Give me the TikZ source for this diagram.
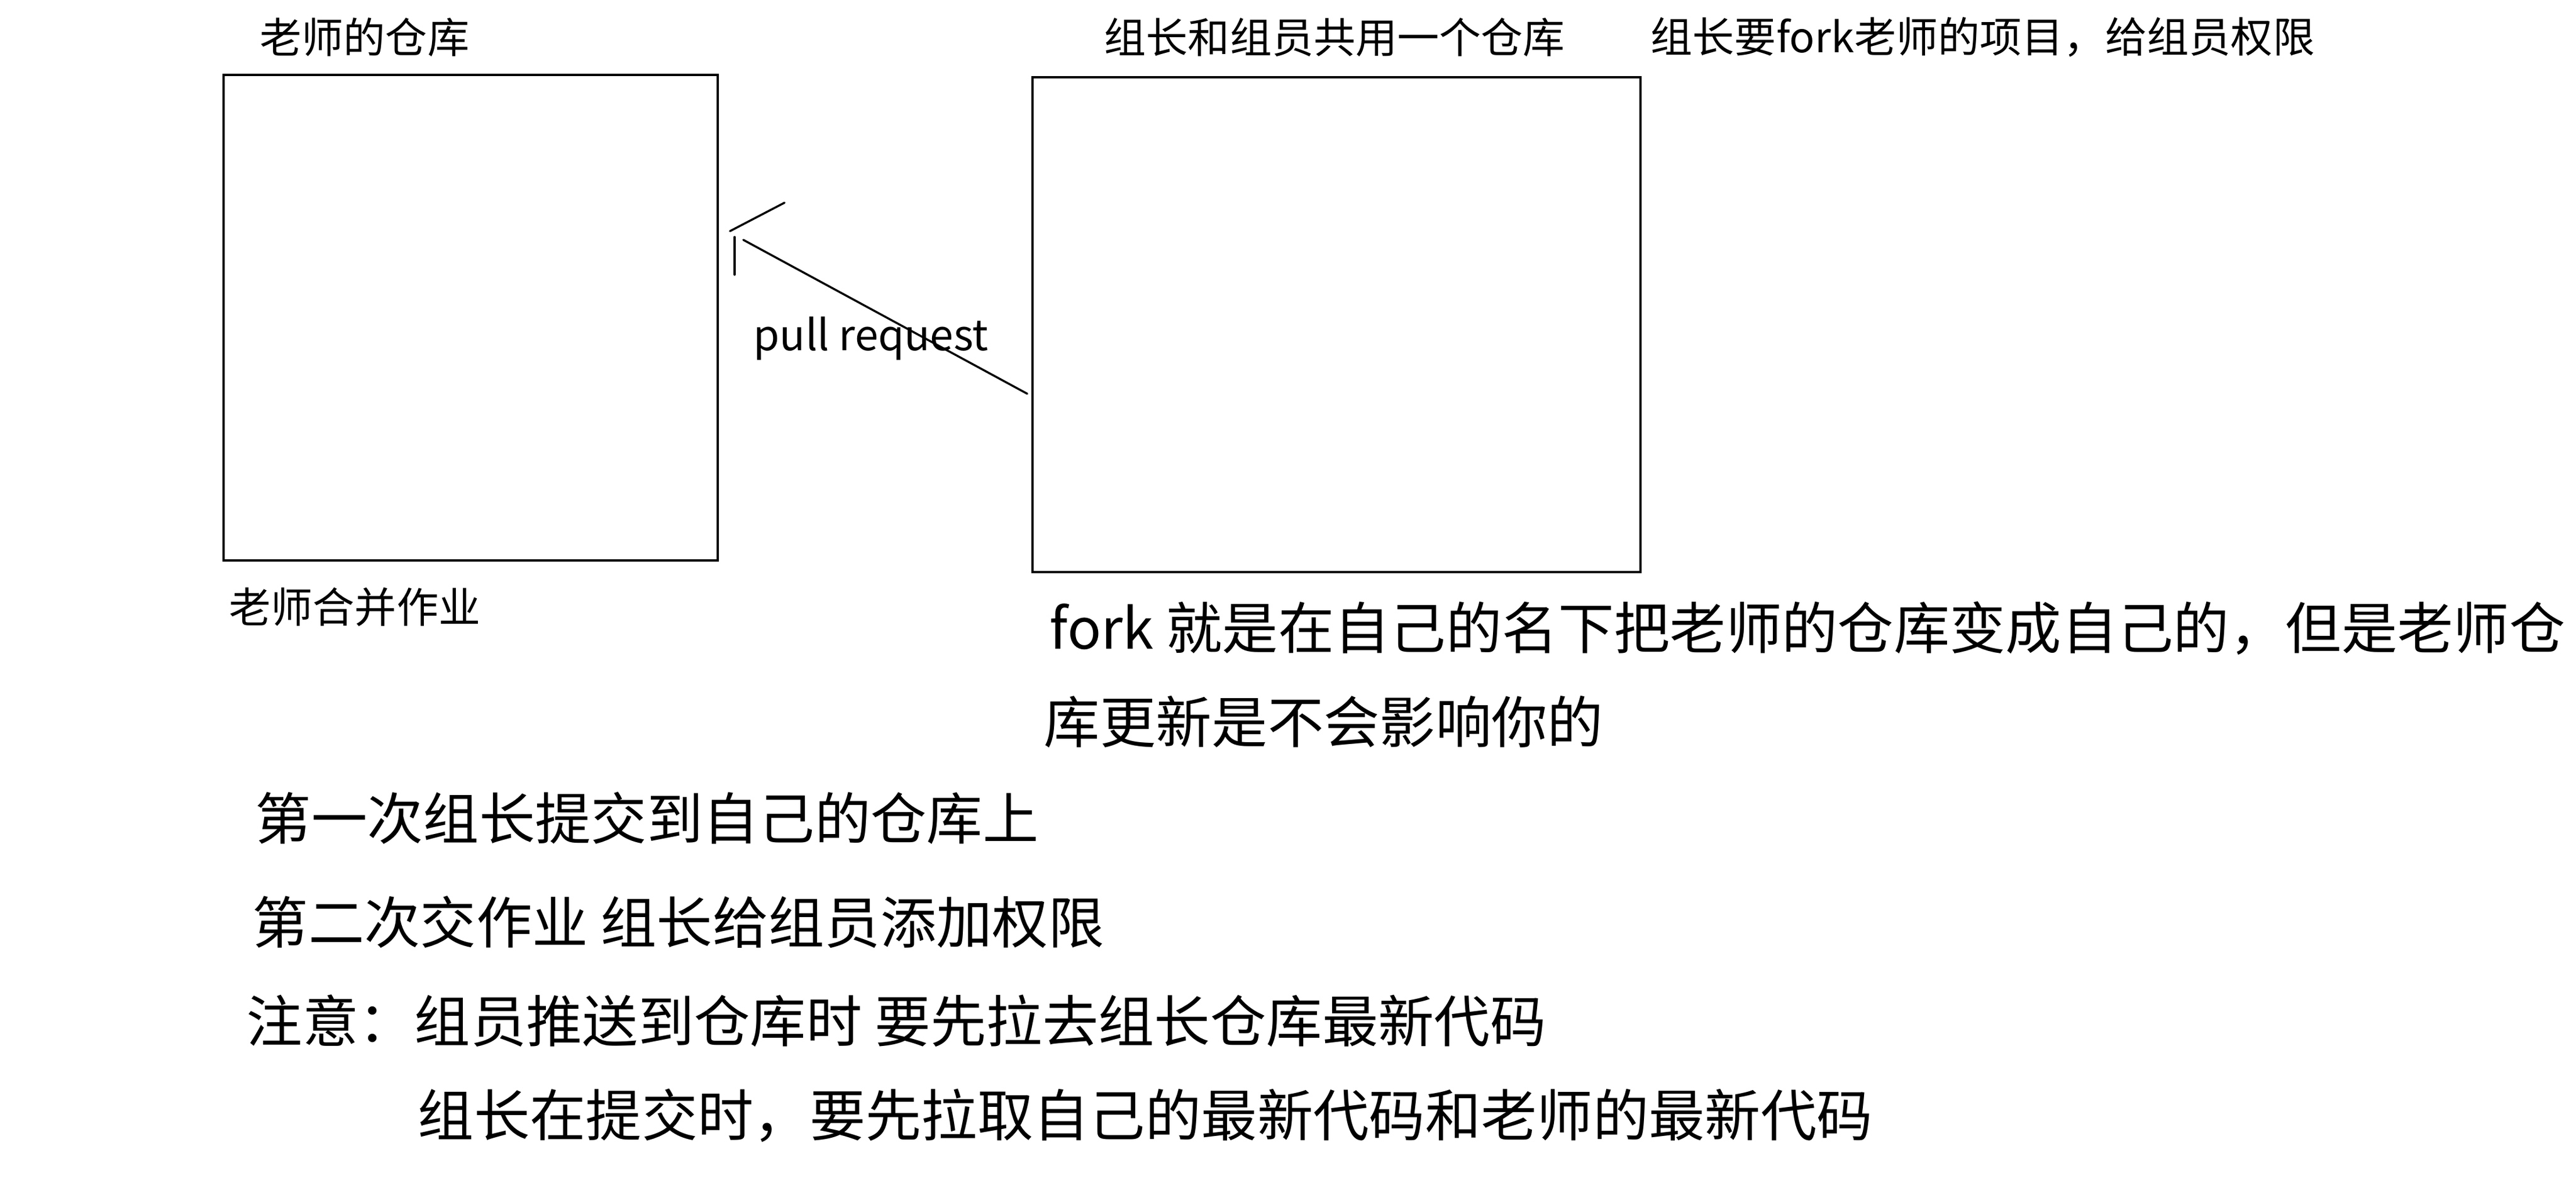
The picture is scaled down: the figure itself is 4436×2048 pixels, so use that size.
\documentclass[tikz,border=0pt]{standalone}
\usepackage{fontspec}
\setmainfont{Noto Sans CJK SC}
\usepackage{tikz}

\begin{document}
\begin{tikzpicture}[x=0.01cm,y=-0.01cm]
    \tikzstyle{edge}    = [line width=1pt,line cap=round,draw=black]
    \tikzstyle{repo}    = [draw=black,line width=1.2pt,inner sep=0pt]
    \tikzstyle{smalltxt}= [anchor=west,inner sep=0pt,font=\fontsize{20.5}{24}\selectfont]
    \tikzstyle{bigtxt}  = [anchor=west,inner sep=0pt,font=\fontsize{27.4}{32}\selectfont]

    \useasboundingbox (0,0) rectangle (4436,2048);

    % the two repositories
    \node[repo,minimum width=8.51cm,minimum height=8.36cm] (teacher) at (810.5,547) {};
    \node[repo,minimum width=10.47cm,minimum height=8.52cm] (group) at (2301.5,559) {};

    \node[smalltxt] (teachername) at (447,64) {老师的仓库};
    \node[smalltxt] (groupname) at (1901,64) {组长和组员共用一个仓库};
    \node[smalltxt] (forknote) at (2842,64) {组长要fork老师的项目，给组员权限};
    \node[smalltxt] (merge) at (394,1045) {老师合并作业};

    % pull request
    \coordinate (prtail) at (1769,678);
    \coordinate (prtip) at (1280,413);
    \draw[edge] (prtail) -- (prtip);
    \draw[edge] (prtip) ++(-23,-15) -- ++(94,-49);
    \draw[edge] (prtip) ++(-15,-5) -- ++(0,65);
    \node[anchor=base west,inner sep=0pt,font=\fontsize{20.7}{24}\selectfont] (prlabel) at (1297,603) {pull request};

    \node[bigtxt] (fork1) at (1807,1082) {fork 就是在自己的名下把老师的仓库变成自己的，但是老师仓};
    \node[bigtxt] (fork2) at (1797,1243) {库更新是不会影响你的};

    \node[bigtxt] (step1) at (439,1409) {第一次组长提交到自己的仓库上};
    \node[bigtxt] (step2) at (434,1588) {第二次交作业 组长给组员添加权限};
    \node[bigtxt] (notice) at (424,1758) {注意：组员推送到仓库时 要先拉去组长仓库最新代码};
    \node[bigtxt] (notice2) at (719,1921) {组长在提交时，要先拉取自己的最新代码和老师的最新代码};
\end{tikzpicture}
\end{document}
